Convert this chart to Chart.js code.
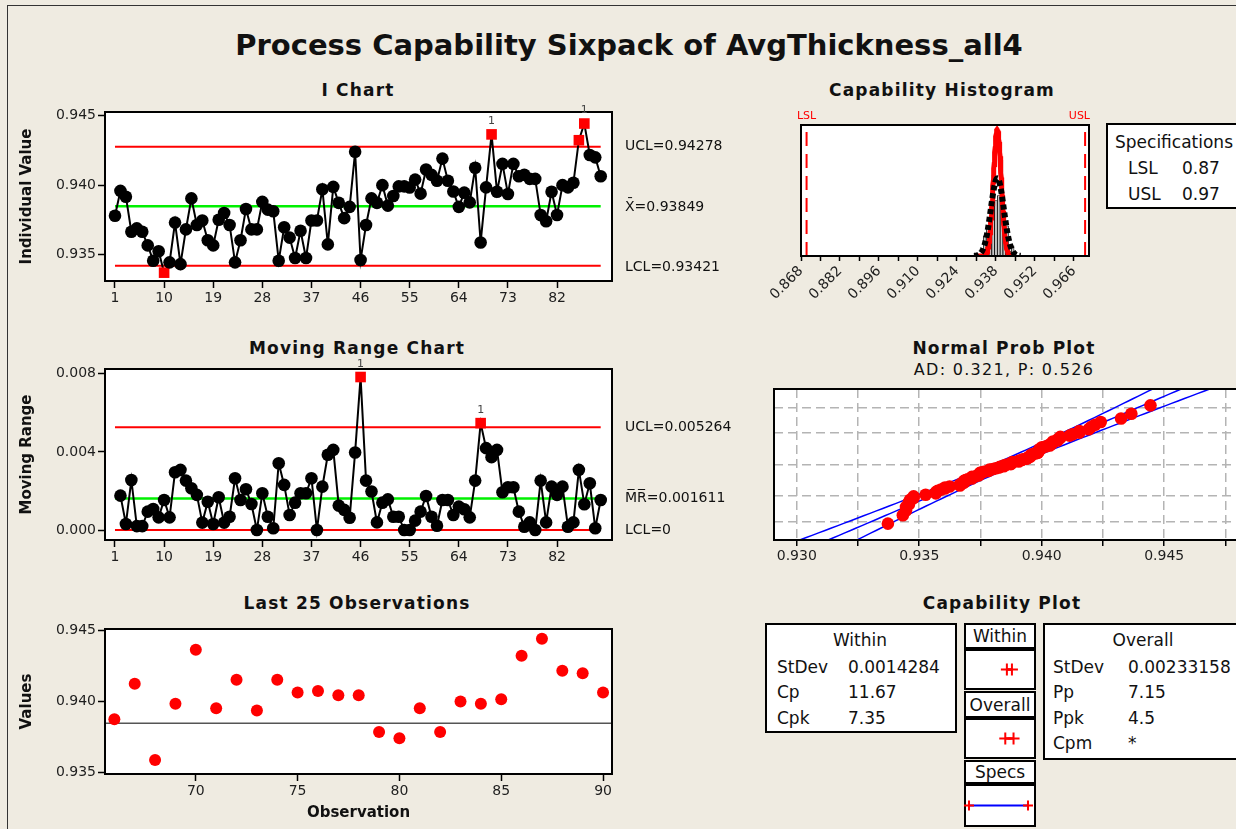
<!DOCTYPE html>
<html>
<head>
<meta charset="utf-8">
<title>Process Capability Sixpack</title>
<script src="https://cdn.jsdelivr.net/npm/chart.js@4.4.1/dist/chart.umd.min.js"></script>
<style>
  html, body { margin: 0; padding: 0; }
  body { width: 1236px; height: 829px; overflow: hidden; background: #efebe1; position: relative;
         font-family: "DejaVu Sans", sans-serif; color: #111; }
  #stage { position: absolute; left: 0; top: 0; width: 1236px; height: 829px; }
  canvas { position: absolute; }
  .outer { position: absolute; left: 7px; top: 5px; width: 1400px; height: 1000px;
           border-left: 1.5px solid #333; border-top: 1.5px solid #333; }
  .title { position: absolute; left: 0; width: 1258px; top: 26px; text-align: center;
           font-weight: bold; font-size: 29px; line-height: 38px; white-space: nowrap; }
  .sub { position: absolute; width: 400px; text-align: center; font-weight: bold; font-size: 17px;
         letter-spacing: 1.2px; line-height: 20px; white-space: nowrap; }
  .box { position: absolute; background: #fff; border: 2px solid #000; box-sizing: border-box; }
  .hdr { display: flex; align-items: center; justify-content: center; font-size: 17px; }
  .t { position: absolute; font-size: 17px; line-height: 20px; white-space: nowrap; }
</style>
</head>
<body>
<div id="stage">
  <div class="outer"></div>
  <div class="title">Process Capability Sixpack of AvgThickness_all4</div>

  <div class="sub" style="left:158px;top:80px">I Chart</div>
  <div class="sub" style="left:157px;top:338px">Moving Range Chart</div>
  <div class="sub" style="left:157px;top:593px">Last 25 Observations</div>
  <div class="sub" style="left:742px;top:80px">Capability Histogram</div>
  <div class="sub" style="left:804px;top:338px">Normal Prob Plot</div>
  <div class="sub" style="left:804px;top:360px;font-weight:normal;font-size:16px;letter-spacing:1.3px">AD: 0.321, P: 0.526</div>
  <div class="sub" style="left:802px;top:593px">Capability Plot</div>

  <!-- specifications -->
  <div class="box" style="left:1106px;top:123px;width:200px;height:86px"></div>
  <div class="t" style="left:1115px;top:132px">Specifications</div>
  <div class="t" style="left:1128px;top:158px">LSL</div>
  <div class="t" style="left:1182px;top:158px">0.87</div>
  <div class="t" style="left:1128px;top:184px">USL</div>
  <div class="t" style="left:1182px;top:184px">0.97</div>

  <!-- capability plot boxes -->
  <div class="box" style="left:765px;top:623px;width:192px;height:110px"></div>
  <div class="t" style="left:760px;top:630px;width:200px;text-align:center">Within</div>
  <div class="t" style="left:777px;top:657px">StDev</div>
  <div class="t" style="left:848px;top:657px">0.0014284</div>
  <div class="t" style="left:777px;top:682px">Cp</div>
  <div class="t" style="left:848px;top:682px">11.67</div>
  <div class="t" style="left:777px;top:708px">Cpk</div>
  <div class="t" style="left:848px;top:708px">7.35</div>

  <div class="box hdr" style="left:964px;top:623px;width:72px;height:26px">Within</div>
  <div class="box" style="left:964px;top:649px;width:72px;height:41px"></div>
  <div class="box hdr" style="left:964px;top:691px;width:72px;height:27px">Overall</div>
  <div class="box" style="left:964px;top:718px;width:72px;height:41px"></div>
  <div class="box hdr" style="left:964px;top:760px;width:72px;height:24px">Specs</div>
  <div class="box" style="left:964px;top:784px;width:72px;height:43px"></div>

  <div class="box" style="left:1043px;top:623px;width:250px;height:137px"></div>
  <div class="t" style="left:1043px;top:630px;width:200px;text-align:center">Overall</div>
  <div class="t" style="left:1053px;top:657px">StDev</div>
  <div class="t" style="left:1128px;top:657px">0.00233158</div>
  <div class="t" style="left:1053px;top:682px">Pp</div>
  <div class="t" style="left:1128px;top:682px">7.15</div>
  <div class="t" style="left:1053px;top:708px">Ppk</div>
  <div class="t" style="left:1128px;top:708px">4.5</div>
  <div class="t" style="left:1053px;top:733px">Cpm</div>
  <div class="t" style="left:1128px;top:733px">*</div>
</div>

<script>
// values
const iValues = [
  0.93781, 0.93960, 0.93918, 0.93666, 0.93690, 0.93666, 0.93568, 0.93458, 0.93526, 0.93372,
  0.93446, 0.93732, 0.93433, 0.93683, 0.93906, 0.93715, 0.93747, 0.93605, 0.93568, 0.93752,
  0.93801, 0.93715, 0.93446, 0.93605, 0.93830, 0.93683, 0.93683, 0.93881, 0.93825, 0.93813,
  0.93458, 0.93698, 0.93624, 0.93477, 0.93673, 0.93477, 0.93747, 0.93747, 0.93972, 0.93575,
  0.93989, 0.93874, 0.93764, 0.93845, 0.94241, 0.93463, 0.93715, 0.93906, 0.93874, 0.94001,
  0.93854, 0.93923, 0.93992, 0.93992, 0.93984, 0.94041, 0.93940, 0.94114, 0.94075, 0.94033,
  0.94192, 0.94033, 0.93955, 0.93845, 0.93947, 0.93877, 0.94126, 0.93589, 0.93985, 0.94366,
  0.93954, 0.94154, 0.93938, 0.94154, 0.94065, 0.94076, 0.94046, 0.94046, 0.93787, 0.93742,
  0.93954, 0.93787, 0.94001, 0.93985, 0.94018, 0.94324, 0.94444, 0.94218, 0.94201, 0.94065
];
// moving ranges, observations 2..90
const mrValues = [
  0.00176, 0.00031, 0.00256, 0.00020, 0.00020, 0.00094, 0.00108, 0.00065, 0.00154,
  0.00065, 0.00296, 0.00308, 0.00253, 0.00214, 0.00180, 0.00038, 0.00145, 0.00031, 0.00168,
  0.00038, 0.00068, 0.00265, 0.00154, 0.00209, 0.00133, 0.00000, 0.00188, 0.00068, 0.00009,
  0.00342, 0.00231, 0.00077, 0.00140, 0.00188, 0.00188, 0.00265, 0.00000, 0.00222, 0.00385,
  0.00410, 0.00125, 0.00103, 0.00063, 0.00397, 0.00783, 0.00253, 0.00197, 0.00039, 0.00140,
  0.00157, 0.00068, 0.00068, 0.00000, 0.00000, 0.00048, 0.00094, 0.00174, 0.00068, 0.00022,
  0.00154, 0.00154, 0.00077, 0.00120, 0.00106, 0.00065, 0.00253, 0.00547, 0.00419, 0.00373,
  0.00410, 0.00193, 0.00219, 0.00219, 0.00094, 0.00017, 0.00039, 0.00000, 0.00253, 0.00039,
  0.00222, 0.00180, 0.00222, 0.00017, 0.00039, 0.00308, 0.00132, 0.00239, 0.00009, 0.00154
];
const obsTicks = [1, 10, 19, 28, 37, 46, 55, 64, 73, 82];
const iYTicks = [0.935, 0.940, 0.945];
const mrYTicks = [0, 0.004, 0.008];
const lastXTicks = [70, 75, 80, 85, 90];
const lastYTicks = [0.935, 0.940, 0.945];
const iOutPoints = [10, 70, 86, 87];
const iTestLabels = [70, 87];
const mrOutPoints = [46, 68];
const mrTestLabels = [46, 68];

const iUCL = 0.94278, iMean = 0.93849, iLCL = 0.93421;
const mrUCL = 0.005264, mrMean = 0.001611, mrLCL = 0;
const LSL = 0.87, USL = 0.97;
const sdWithin = 0.0014284, sdOverall = 0.00233158;

const histMids = [0.934, 0.935, 0.936, 0.937, 0.938, 0.939, 0.940, 0.941, 0.942, 0.943, 0.944];
const histCounts = [4, 6, 7, 16, 11, 12, 19, 6, 6, 1, 2];
const histTicks = [0.868, 0.875, 0.882, 0.889, 0.896, 0.903, 0.910, 0.917, 0.924, 0.931, 0.938, 0.945, 0.952, 0.959, 0.966];
const histLabelTicks = [0.868, 0.882, 0.896, 0.910, 0.924, 0.938, 0.952, 0.966];
const probXTicks = [0.930, 0.9325, 0.935, 0.9375, 0.940, 0.9425, 0.945, 0.9475];
const probXLabels = [0.930, 0.935, 0.940, 0.945];
const probGridPct = [1, 10, 50, 90, 99];

Chart.defaults.font.family = '"DejaVu Sans", sans-serif';
Chart.defaults.font.size = 14;
Chart.defaults.color = '#1e1e1e';
Chart.defaults.animation = false;
Chart.defaults.events = [];
Chart.defaults.plugins.legend.display = false;
Chart.defaults.plugins.tooltip.enabled = false;
Chart.defaults.layout.autoPadding = false;

const RED = '#ff0000', GREEN = '#00f000', BLUE = '#0000ff';

const normInv = (p) => {
  const a = [-39.69683028665376, 220.9460984245205, -275.9285104469687, 138.3577518672690, -30.66479806614716, 2.506628277459239];
  const b = [-54.47609879822406, 161.5858368580409, -155.6989798598866, 66.80131188771972, -13.28068155288572];
  const c = [-0.007784894002430293, -0.3223964580411365, -2.400758277161838, -2.549732539343734, 4.374664141464968, 2.938163982698783];
  const d = [0.007784695709041462, 0.3224671290700398, 2.445134137142996, 3.754408661907416];
  const lo = 0.02425;
  if (p < lo || p > 1 - lo) {
    const q = Math.sqrt(-2 * Math.log(p < lo ? p : 1 - p));
    const v = (((((c[0] * q + c[1]) * q + c[2]) * q + c[3]) * q + c[4]) * q + c[5]) /
              ((((d[0] * q + d[1]) * q + d[2]) * q + d[3]) * q + 1);
    return p < lo ? v : -v;
  }
  const q = p - 0.5, r = q * q;
  return (((((a[0] * r + a[1]) * r + a[2]) * r + a[3]) * r + a[4]) * r + a[5]) * q /
         (((((b[0] * r + b[1]) * r + b[2]) * r + b[3]) * r + b[4]) * r + 1);
};

const makeCanvas = (left, top, w, h) => {
  const c = document.createElement('canvas');
  c.width = w;
  c.height = h;
  c.style.left = left + 'px';
  c.style.top = top + 'px';
  c.style.width = w + 'px';
  c.style.height = h + 'px';
  document.getElementById('stage').appendChild(c);
  return c;
};

const setTicks = (vals) => (scale) => { scale.ticks = vals.map((v) => ({ value: v })); };
const tickGrid = (len) => ({ display: true, drawOnChartArea: false, drawTicks: true, tickLength: len, tickColor: '#000', tickWidth: 1.5 });
const flat = (y, x0, x1) => [{ x: x0, y }, { x: x1, y }];

// white plot area + black frame
const framePlugin = {
  id: 'frame',
  beforeDraw(chart) {
    const { ctx, chartArea: a } = chart;
    ctx.save();
    ctx.fillStyle = '#fff';
    ctx.fillRect(a.left, a.top, a.right - a.left, a.bottom - a.top);
    ctx.restore();
  },
  afterDraw(chart) {
    const { ctx, chartArea: a } = chart;
    ctx.save();
    ctx.strokeStyle = '#000';
    ctx.lineWidth = 2;
    ctx.strokeRect(a.left, a.top, a.right - a.left, a.bottom - a.top);
    ctx.restore();
  }
};

// control limit texts at the right, test "1" flags over points
const limitPlugin = {
  id: 'limits',
  afterDraw(chart, args, opts) {
    const { ctx, chartArea: a } = chart;
    ctx.save();
    ctx.font = '14px "DejaVu Sans"';
    ctx.fillStyle = '#111';
    ctx.textBaseline = 'middle';
    (opts.items || []).forEach((it) => {
      ctx.fillText(it.text, a.right + 13, chart.scales.y.getPixelForValue(it.value) + (it.dy || 0));
    });
    ctx.font = '11px "DejaVu Sans"';
    ctx.fillStyle = '#444';
    ctx.textAlign = 'center';
    const meta = chart.getDatasetMeta(0);
    (opts.flags || []).forEach((obs) => {
      const el = meta.data[obs - opts.first];
      if (el) ctx.fillText('1', el.x, el.y - 13);
    });
    ctx.restore();
  }
};

const iPoints = iValues.map((v, i) => ({ x: i + 1, y: v }));
const mrPoints = mrValues.map((v, i) => ({ x: i + 2, y: v }));
const n = iValues.length;

const controlChart = (canvas, cfg) => new Chart(canvas, {
  type: 'scatter',
  data: {
    datasets: [
      {
        data: cfg.points, showLine: true, borderColor: '#000', borderWidth: 2, order: 0,
        pointStyle: (c) => (c.raw && cfg.out.includes(c.raw.x) ? 'rect' : 'circle'),
        pointRadius: (c) => (c.raw && cfg.out.includes(c.raw.x) ? 7.5 : 6.3),
        pointBackgroundColor: (c) => (c.raw && cfg.out.includes(c.raw.x) ? RED : '#000'),
        pointBorderWidth: 0
      },
      { data: flat(cfg.ucl, 1, n), showLine: true, borderColor: RED, borderWidth: 2, pointRadius: 0, order: 1 },
      { data: flat(cfg.mean, 1, n), showLine: true, borderColor: GREEN, borderWidth: 2.5, pointRadius: 0, order: 1 },
      { data: flat(cfg.lcl, 1, n), showLine: true, borderColor: RED, borderWidth: 2, pointRadius: 0, order: 1 }
    ]
  },
  options: {
    responsive: false,
    devicePixelRatio: 1,
    layout: { padding: { left: 14, top: 17, right: 128, bottom: cfg.padBottom } },
    scales: {
      x: {
        type: 'linear', min: -0.83, max: 92.07,
        afterBuildTicks: setTicks(obsTicks),
        ticks: { padding: 2, maxRotation: 0, autoSkip: false, callback: (v) => String(v) },
        grid: tickGrid(7),
        border: { display: false },
        afterFit: (s) => { s.height = 30; }
      },
      y: {
        min: cfg.ymin, max: cfg.ymax,
        afterBuildTicks: setTicks(cfg.yticks),
        ticks: { padding: 2, callback: (v) => v.toFixed(3) },
        grid: tickGrid(7),
        border: { display: false },
        title: { display: true, text: cfg.ytitle, font: { weight: 'bold', size: 15 }, color: '#111', padding: { top: 4, bottom: 0 } },
        afterFit: (s) => { s.width = 91; }
      }
    },
    plugins: { limits: { items: cfg.labels, flags: cfg.flags, first: cfg.first } }
  },
  plugins: [framePlugin, limitPlugin]
});

// I chart
controlChart(makeCanvas(0, 95, 740, 220), {
  points: iPoints, out: iOutPoints, flags: iTestLabels, first: 1,
  ucl: iUCL, mean: iMean, lcl: iLCL,
  ymin: 0.93312, ymax: 0.94527, yticks: iYTicks, ytitle: 'Individual Value', padBottom: 4,
  labels: [
    { value: iUCL, text: 'UCL=0.94278' },
    { value: iMean, text: 'X\u0304=0.93849', dy: 1 },
    { value: iLCL, text: 'LCL=0.93421', dy: 2 }
  ]
});

// moving range chart
controlChart(makeCanvas(0, 352, 740, 225), {
  points: mrPoints, out: mrOutPoints, flags: mrTestLabels, first: 2,
  ucl: mrUCL, mean: mrMean, lcl: mrLCL,
  ymin: -0.00051, ymax: 0.00824, yticks: mrYTicks, ytitle: 'Moving Range', padBottom: 7,
  labels: [
    { value: mrUCL, text: 'UCL=0.005264' },
    { value: mrMean, text: 'M\u0305R\u0305=0.001611' },
    { value: mrLCL, text: 'LCL=0' }
  ]
});

// last 25 observations
const lastStart = n - 25;
const lastPoints = iValues.slice(lastStart).map((v, i) => ({ x: lastStart + i + 1, y: v }));
const lastXMin = 65.54, lastXMax = 90.44;
new Chart(makeCanvas(0, 612, 740, 217), {
  type: 'scatter',
  data: {
    datasets: [
      { data: lastPoints, pointRadius: 6, pointBackgroundColor: RED, pointBorderWidth: 0, order: 0 },
      { data: flat(iMean, lastXMin, lastXMax), showLine: true, borderColor: '#555', borderWidth: 1.5, pointRadius: 0, order: 1 }
    ]
  },
  options: {
    responsive: false,
    devicePixelRatio: 1,
    layout: { padding: { left: 14, top: 17, right: 128, bottom: 3 } },
    scales: {
      x: {
        type: 'linear', min: lastXMin, max: lastXMax,
        afterBuildTicks: setTicks(lastXTicks),
        ticks: { padding: 2, maxRotation: 0, autoSkip: false, callback: (v) => String(v) },
        grid: tickGrid(7),
        border: { display: false },
        title: { display: true, text: 'Observation', font: { weight: 'bold', size: 15 }, color: '#111', padding: { top: 2, bottom: 4 } },
        afterFit: (s) => { s.height = 52; }
      },
      y: {
        min: 0.93491, max: 0.94512,
        afterBuildTicks: setTicks(lastYTicks),
        ticks: { padding: 2, callback: (v) => v.toFixed(3) },
        grid: tickGrid(7),
        border: { display: false },
        title: { display: true, text: 'Values', font: { weight: 'bold', size: 15 }, color: '#111', padding: { top: 4, bottom: 0 } },
        afterFit: (s) => { s.width = 91; }
      }
    }
  },
  plugins: [framePlugin]
});

// capability histogram
const binWidth = 0.001;
const normalCurve = (mu, sd, span) => {
  const pts = [];
  for (let k = -80; k <= 80; k++) {
    const x = mu + (k / 80) * span * sd;
    const z = (x - mu) / sd;
    pts.push({ x, y: n * binWidth * Math.exp(-0.5 * z * z) / (sd * Math.sqrt(2 * Math.PI)) });
  }
  return pts;
};
const histYMax = 26;
const specLabelPlugin = {
  id: 'specLabels',
  afterDraw(chart) {
    const { ctx, chartArea: a } = chart;
    const x = chart.scales.x;
    ctx.save();
    ctx.font = '11px "DejaVu Sans"';
    ctx.fillStyle = RED;
    ctx.textBaseline = 'middle';
    ctx.textAlign = 'center';
    ctx.fillText('LSL', x.getPixelForValue(LSL), a.top - 9);
    ctx.textAlign = 'right';
    ctx.fillText('USL', a.right + 1, a.top - 9);
    ctx.restore();
  }
};
new Chart(makeCanvas(760, 105, 360, 220), {
  type: 'bar',
  data: {
    datasets: [
      { type: 'line', data: normalCurve(iMean, sdOverall, 3.6), borderColor: '#000', borderWidth: 6, borderDash: [5, 3], pointRadius: 0, order: 0 },
      { type: 'line', data: normalCurve(iMean, sdWithin, 4.6), borderColor: RED, borderWidth: 5, pointRadius: 0, order: 1 },
      { type: 'line', data: [{ x: LSL, y: 0 }, { x: LSL, y: histYMax }], borderColor: RED, borderWidth: 2, borderDash: [14, 8], pointRadius: 0, order: 2 },
      { type: 'line', data: [{ x: USL, y: 0 }, { x: USL, y: histYMax }], borderColor: RED, borderWidth: 2, borderDash: [14, 8], pointRadius: 0, order: 2 },
      {
        type: 'bar', data: histMids.map((m, i) => ({ x: m, y: histCounts[i] })),
        backgroundColor: '#c8c8c8', borderColor: '#000', borderWidth: 0.8,
        barPercentage: 1, categoryPercentage: 1, order: 5
      }
    ]
  },
  options: {
    responsive: false,
    devicePixelRatio: 1,
    layout: { padding: { left: 41, top: 20, right: 31, bottom: 9 } },
    scales: {
      x: {
        type: 'linear', min: 0.868, max: 0.9714, offset: false,
        afterBuildTicks: setTicks(histTicks),
        ticks: {
          padding: 2, minRotation: 45, maxRotation: 45, autoSkip: false,
          callback: (v) => (histLabelTicks.some((t) => Math.abs(t - v) < 1e-6) ? v.toFixed(3) : '')
        },
        grid: Object.assign(tickGrid(5), { offset: false }),
        border: { display: false },
        afterFit: (s) => { s.height = 60; }
      },
      y: { display: false, min: 0, max: histYMax }
    }
  },
  plugins: [framePlugin, specLabelPlugin]
});

// normal probability plot
const sortedValues = [...iValues].sort((a, b) => a - b);
const probPoints = sortedValues.map((v, i) => ({ x: v, y: normInv((i + 1 - 0.3) / (n + 0.4)) }));
const zGrid = probGridPct.map((p) => normInv(p / 100));
const fitLine = [], lowBand = [], highBand = [];
for (let k = -34; k <= 34; k++) {
  const z = k / 10;
  const half = 1.96 * sdOverall * Math.sqrt(1 / n + (z * z) / (2 * (n - 1)));
  const xm = iMean + sdOverall * z;
  fitLine.push({ x: xm, y: z });
  lowBand.push({ x: xm - half, y: z });
  highBand.push({ x: xm + half, y: z });
}
new Chart(makeCanvas(740, 365, 520, 200), {
  type: 'scatter',
  data: {
    datasets: [
      { data: probPoints, pointRadius: 6.3, pointBackgroundColor: RED, pointBorderWidth: 0, order: 0 },
      { data: fitLine, showLine: true, borderColor: BLUE, borderWidth: 1.5, pointRadius: 0, order: 1 },
      { data: lowBand, showLine: true, borderColor: BLUE, borderWidth: 1.5, pointRadius: 0, order: 1 },
      { data: highBand, showLine: true, borderColor: BLUE, borderWidth: 1.5, pointRadius: 0, order: 1 }
    ]
  },
  options: {
    responsive: false,
    devicePixelRatio: 1,
    layout: { padding: { left: 34, top: 24, right: 15, bottom: 0 } },
    scales: {
      x: {
        type: 'linear', min: 0.92907, max: 0.9483,
        afterBuildTicks: setTicks(probXTicks),
        ticks: {
          padding: 2, maxRotation: 0, autoSkip: false,
          callback: (v) => (probXLabels.some((t) => Math.abs(t - v) < 1e-7) ? v.toFixed(3) : '')
        },
        grid: { display: true, drawOnChartArea: true, drawTicks: true, tickLength: 6, tickColor: '#000', tickWidth: 1.5,
                color: '#b4b4b4', lineWidth: 1.5, tickBorderDash: [] },
        border: { display: false, dash: [9, 5] },
        afterFit: (s) => { s.height = 25; }
      },
      y: {
        min: -3.09, max: 3.09,
        afterBuildTicks: setTicks(zGrid),
        ticks: { display: false },
        grid: { display: true, drawOnChartArea: true, drawTicks: false, color: '#b4b4b4', lineWidth: 1.5 },
        border: { display: false, dash: [9, 5] },
        afterFit: (s) => { s.width = 0; }
      }
    }
  },
  plugins: [framePlugin]
});

// capability plot: tiny interval charts
const miniMin = 0.86153, miniMax = 0.98356;
const miniChart = (canvas, datasets) => new Chart(canvas, {
  type: 'scatter',
  data: { datasets },
  options: {
    responsive: false,
    devicePixelRatio: 1,
    layout: { padding: 0 },
    scales: { x: { display: false, min: miniMin, max: miniMax }, y: { display: false, min: -1, max: 1 } }
  }
});
const intervalSet = (sd) => ({
  data: [{ x: iMean - 3 * sd, y: 0 }, { x: iMean + 3 * sd, y: 0 }],
  showLine: true, borderColor: RED, borderWidth: 2.5, clip: false,
  pointStyle: 'cross', pointRadius: 6, pointBorderColor: RED, pointBorderWidth: 2
});
miniChart(makeCanvas(964, 649, 72, 41), [intervalSet(sdWithin)]);
miniChart(makeCanvas(964, 718, 72, 41), [intervalSet(sdOverall)]);
miniChart(makeCanvas(964, 784, 72, 43), [{
  data: [{ x: LSL, y: 0 }, { x: USL, y: 0 }],
  showLine: true, borderColor: BLUE, borderWidth: 2, clip: false,
  pointStyle: 'cross', pointRadius: 5, pointBorderColor: RED, pointBorderWidth: 2
}]);
</script>
</body>
</html>
